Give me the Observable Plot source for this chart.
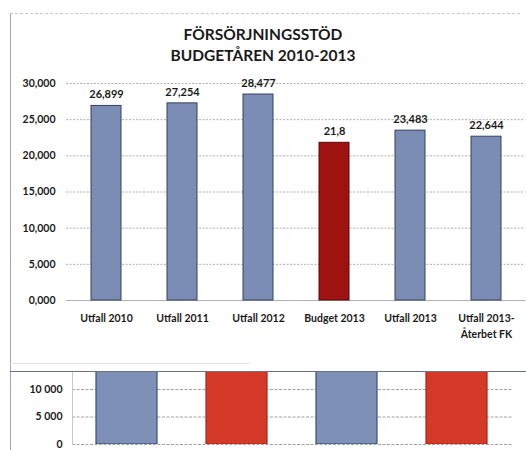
<!DOCTYPE html>
<html>
<head>
<meta charset="utf-8">
<script src="https://cdn.jsdelivr.net/npm/d3@7"></script>
<script src="https://cdn.jsdelivr.net/npm/@observablehq/plot@0.6"></script>
<style>
  html, body { margin: 0; padding: 0; background: #fff; }
  body { width: 526px; height: 450px; position: relative; overflow: hidden; font-family: Lato, "Open Sans", sans-serif; }
  .abs { position: absolute; }
  #title { left: 0; width: 526px; top: 24px; text-align: center; font-weight: bold; font-size: 15.5px; line-height: 21px; color: #1a1a1a; }
  #frameL { left: 10px; top: 13px; width: 0; height: 437px; border-left: 1.5px solid #9aa6c4; }
  #frameT { left: 10px; top: 13px; width: 510px; height: 0; border-top: 1px dashed #c4c8d2; }
  #frameB { left: 10px; top: 363px; width: 240px; height: 0; border-top: 1px solid #e2e4ea; }
  #sep { left: 10px; top: 371px; width: 516px; height: 0; border-top: 1.5px solid #6c7080; }
  #c1 { left: 0; top: 60px; }
  #c2 { left: 0; top: 372px; }
</style>
</head>
<body>
<div id="frameL" class="abs"></div>
<div id="frameT" class="abs"></div>
<div id="frameB" class="abs"></div>
<div id="title" class="abs">FÖRSÖRJNINGSSTÖD<br>BUDGETÅREN 2010-2013</div>
<div id="c1" class="abs"></div>
<div id="sep" class="abs"></div>
<div id="c2" class="abs"></div>
<script>
// Main chart data
const categories = ["Utfall 2010", "Utfall 2011", "Utfall 2012", "Budget 2013", "Utfall 2013", "Utfall 2013-\nÅterbet FK"];
const values = [26.899, 27.254, 28.477, 21.8, 23.483, 22.644];
const kinds = ["utfall", "utfall", "utfall", "budget", "utfall", "utfall"];
const yTicks = [0, 5, 10, 15, 20, 25, 30];

// Lower (cropped) chart data
const lowerCategories = ["A", "B", "C", "D"];
const lowerValues = [26000, 22000, 24000, 22500];
const lowerKinds = ["utfall", "budget", "utfall", "budget"];
const lowerTicks = [0, 5000, 10000];

const font = "Lato, 'Open Sans', sans-serif";
const data = categories.map((c, i) => ({cat: c, value: values[i], kind: kinds[i]}));
const lower = lowerCategories.map((c, i) => ({cat: c, value: lowerValues[i], kind: lowerKinds[i]}));
const comma = v => String(v).replace(".", ",");

const chart1 = Plot.plot({
  width: 526,
  height: 300,
  marginTop: 23,
  marginBottom: 60,
  marginLeft: 66,
  marginRight: 1,
  style: {fontFamily: font, fontSize: "11px", fontWeight: "bold", color: "#1a1a1a", background: "transparent"},
  x: {domain: categories, paddingInner: 0.608, paddingOuter: 0.304},
  y: {domain: [0, 30]},
  marks: [
    Plot.gridY(yTicks, {stroke: "#9a9a9a", strokeOpacity: 1, strokeDasharray: "2,1.5", strokeWidth: 0.8}),
    Plot.ruleY([0], {stroke: "#b0b0b0"}),
    Plot.axisY(yTicks, {label: null, tickSize: 0, tickPadding: 11, fontSize: 10.5, fontWeight: "bold",
      tickFormat: t => d3.format(".3f")(t).replace(".", ",")}),
    Plot.axisX({label: null, tickSize: 0, tickPadding: 11, fontSize: 10.5, fontWeight: "bold", lineHeight: 1.45}),
    Plot.barY(data, {x: "cat", y: "value", fill: d => d.kind === "budget" ? "#9e1212" : "#7c8db5",
      stroke: d => d.kind === "budget" ? "#5a0808" : "#33415f", strokeWidth: 1}),
    Plot.text(data, {x: "cat", y: "value", text: d => comma(d.value), dy: -11, fontSize: 11, fontWeight: "bold", fill: "#1a1a1a"})
  ]
});
document.getElementById("c1").append(chart1);

const chart2 = Plot.plot({
  width: 526,
  height: 78,
  marginTop: 0,
  marginBottom: 6,
  marginLeft: 72,
  marginRight: 14,
  style: {fontFamily: font, fontSize: "11px", fontWeight: "bold", color: "#1a1a1a", background: "transparent", overflow: "visible"},
  x: {domain: lowerCategories, paddingInner: 0.445, paddingOuter: 0.2225, axis: null},
  y: {domain: [0, 13100]},
  marks: [
    Plot.gridY(lowerTicks, {stroke: "#8a8a8a", strokeOpacity: 1, strokeDasharray: "3,1.5", strokeWidth: 0.8}),
    Plot.axisY(lowerTicks, {label: null, tickSize: 0, tickPadding: 10, fontSize: 10.5, fontWeight: "bold",
      tickFormat: t => d3.format(",")(t).replace(",", " ")}),
    Plot.frame({anchor: "left", stroke: "#c8c8c8"}),
    Plot.barY(lower, {x: "cat", y: "value", clip: true, fill: d => d.kind === "budget" ? "#d53a28" : "#7e90b6",
      stroke: d => d.kind === "budget" ? "#a8261a" : "#34507a", strokeWidth: 1.2})
  ]
});
document.getElementById("c2").append(chart2);
</script>
</body>
</html>
